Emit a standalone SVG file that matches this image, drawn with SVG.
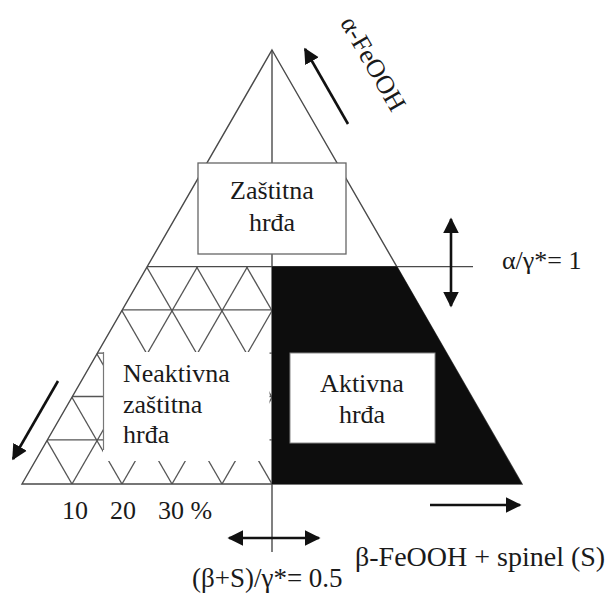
<svg xmlns="http://www.w3.org/2000/svg" width="613" height="593" viewBox="0 0 613 593">
<style>
  .edge { fill: none; stroke: #4a4a4a; stroke-width: 1.4; }
  .grid line { stroke: #555; stroke-width: 1.3; }
  .box { fill: #fff; stroke: #666; stroke-width: 1.3; }
  .t { font-family: "Liberation Serif", "Times New Roman", serif; font-size: 26px; fill: #1a1a1a; }
  .arrow { stroke: #111; stroke-width: 2.6; fill: none; }
</style>
<defs>
  <marker id="ah" viewBox="0 0 10 10" refX="9" refY="5" markerWidth="6" markerHeight="6.5" orient="auto-start-reverse" markerUnits="strokeWidth">
    <path d="M0,0 L10,5 L0,10 Z" fill="#111"/>
  </marker>
  <clipPath id="gridclip">
    <polygon points="147,266.6 272,266.6 272,484 22,484"/>
  </clipPath>
</defs>
<rect width="613" height="593" fill="#fff"/>

<g id="grid" class="grid" clip-path="url(#gridclip)">
  <line x1="72" y1="484" x2="322.6" y2="50"/>
  <line x1="122" y1="484" x2="372.6" y2="50"/>
  <line x1="172" y1="484" x2="422.6" y2="50"/>
  <line x1="222" y1="484" x2="472.6" y2="50"/>
  <line x1="72" y1="484" x2="-178.6" y2="50"/>
  <line x1="122" y1="484" x2="-128.6" y2="50"/>
  <line x1="172" y1="484" x2="-78.6" y2="50"/>
  <line x1="222" y1="484" x2="-28.6" y2="50"/>
  <line x1="272" y1="484" x2="21.4" y2="50"/>
  <line x1="322" y1="484" x2="71.4" y2="50"/>
  <line x1="372" y1="484" x2="121.4" y2="50"/>
  <line x1="0" y1="309.9" x2="272" y2="309.9"/>
  <line x1="0" y1="353.2" x2="272" y2="353.2"/>
  <line x1="0" y1="396.5" x2="272" y2="396.5"/>
  <line x1="0" y1="439.8" x2="272" y2="439.8"/>
</g>

<g id="triangle">
  <polygon class="edge" points="272,50 522,484 22,484"/>
  <line class="edge" x1="272" y1="50" x2="272" y2="552"/>
  <line class="edge" x1="147" y1="266.6" x2="473" y2="266.6"/>
</g>

<g id="aktivna-region">
  <polygon points="272,266.6 397,266.6 522,484 272,484" fill="#0d0d0d"/>
</g>

<g id="zastitna">
  <rect class="box" x="198" y="163" width="148" height="91"/>
  <text class="t" x="272" y="199" text-anchor="middle">Zaštitna</text>
  <text class="t" x="272" y="231" text-anchor="middle">hrđa</text>
</g>

<g id="neaktivna">
  <rect x="103" y="352" width="166.5" height="109" fill="#fff"/>
  <line x1="103.5" y1="352" x2="103.5" y2="450" stroke="#777" stroke-width="1.2"/>
  <text class="t" x="123" y="382">Neaktivna</text>
  <text class="t" x="123" y="413">zaštitna</text>
  <text class="t" x="123" y="443">hrđa</text>
</g>

<g id="aktivna">
  <rect x="290" y="353" width="145" height="90" fill="#fff" stroke="#888" stroke-width="1"/>
  <text class="t" x="362" y="392" text-anchor="middle">Aktivna</text>
  <text class="t" x="362" y="423" text-anchor="middle">hrđa</text>
</g>

<g id="connectors">
  <line class="arrow" x1="348" y1="124" x2="305" y2="49" marker-end="url(#ah)"/>
  <line class="arrow" x1="451" y1="219" x2="451" y2="306" marker-start="url(#ah)" marker-end="url(#ah)"/>
  <line class="arrow" x1="58" y1="381" x2="13" y2="459" marker-end="url(#ah)"/>
  <line class="arrow" x1="430" y1="505" x2="520" y2="505" marker-end="url(#ah)"/>
  <line class="arrow" x1="229" y1="538" x2="319" y2="538" marker-start="url(#ah)" marker-end="url(#ah)"/>
</g>

<g id="labels">
  <text class="t" transform="translate(371,65) rotate(60)" text-anchor="middle" dominant-baseline="middle">α-FeOOH</text>
  <text class="t" x="502" y="269">α/γ*= 1</text>
  <text class="t" x="62" y="519">10</text>
  <text class="t" x="110" y="519">20</text>
  <text class="t" x="158" y="519">30 %</text>
  <text class="t" x="355" y="566" style="font-size:28px">β-FeOOH + spinel (S)</text>
  <text class="t" x="192" y="587" style="font-size:27px">(β+S)/γ*= 0.5</text>
</g>
</svg>
